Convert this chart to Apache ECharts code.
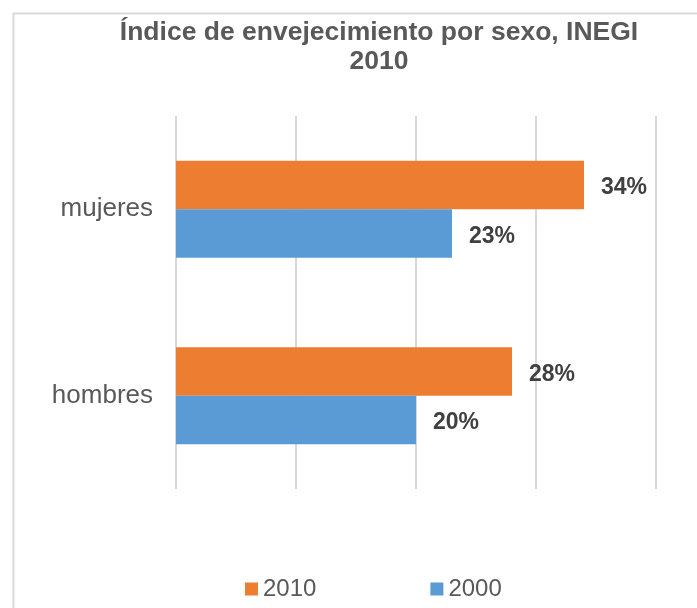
<!DOCTYPE html>
<html>
<head>
<meta charset="utf-8">
<script src="https://cdn.jsdelivr.net/npm/echarts@6/dist/echarts.min.js"></script>
<style>
html,body{margin:0;padding:0;background:#fff;}
#chart{width:697px;height:608px;}
</style>
</head>
<body>
<div id="chart"></div>
<script>
var categories = ['hombres', 'mujeres'];
var values2010 = [0.28, 0.34];
var values2000 = [0.20, 0.23];
var seriesNames = ['2010', '2000'];
var xTicks = [0, 0.1, 0.2, 0.3, 0.4];

var FONT = '"Liberation Sans", Arial, sans-serif';
var chart = echarts.init(document.getElementById('chart'));
function pct(p){ return Math.round(p.value * 100) + '%'; }
var labelStyle = {
  show: true, position: 'right', distance: 17, offset: [0, 3], formatter: pct,
  fontFamily: FONT, fontSize: 23, fontWeight: 'bold', color: '#404040'
};
chart.setOption({
  backgroundColor: '#fff',
  animation: false,
  graphic: [{
    type: 'rect', left: 11, top: 11, shape: { x: 0, y: 0, width: 720, height: 720 },
    style: { fill: 'none', stroke: '#d9d9d9', lineWidth: 2 }, silent: true, z: -1
  }],
  title: {
    text: 'Índice de envejecimiento por sexo, INEGI\n2010',
    left: 379, top: 18, textAlign: 'center', padding: 0,
    textStyle: { fontFamily: FONT, fontSize: 26.5, fontWeight: 'bold', color: '#595959', lineHeight: 29 }
  },
  legend: {
    data: seriesNames, top: 572, left: 240, icon: 'rect',
    itemWidth: 13, itemHeight: 13, itemGap: 114,
    textStyle: { fontFamily: FONT, fontSize: 24, color: '#595959' }
  },
  grid: { left: 176, right: 41, top: 116, bottom: 119, containLabel: false },
  xAxis: {
    type: 'value', min: xTicks[0], max: xTicks[xTicks.length - 1], interval: 0.1,
    axisLabel: { show: false }, axisLine: { show: false }, axisTick: { show: false },
    splitLine: { show: true, lineStyle: { color: '#d9d9d9', width: 2 } }
  },
  yAxis: {
    type: 'category', data: categories,
    axisLine: { show: false }, axisTick: { show: false },
    axisLabel: { fontFamily: FONT, fontSize: 26, color: '#595959', margin: 23 }
  },
  series: [
    { name: '2010', type: 'bar', data: values2010, itemStyle: { color: '#ed7d31' },
      barGap: '0%', barCategoryGap: '48%', label: labelStyle },
    { name: '2000', type: 'bar', data: values2000, itemStyle: { color: '#5b9bd5' },
      barGap: '0%', barCategoryGap: '48%', label: labelStyle }
  ]
});
</script>
</body>
</html>
